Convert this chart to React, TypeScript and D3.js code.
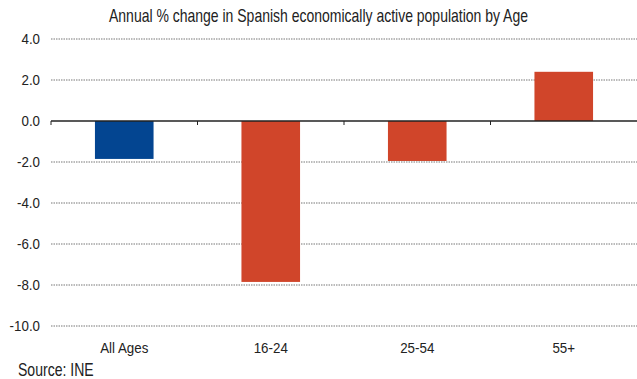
import React from "react";
import * as d3 from "d3";

const categories = ["All Ages", "16-24", "25-54", "55+"];
const values = [-1.85, -7.85, -1.95, 2.4];
const colors = ["#034591", "#d0452a", "#d0452a", "#d0452a"];
const yTicks = [4, 2, 0, -2, -4, -6, -8, -10];
const title = "Annual % change in Spanish economically active population by Age";
const source = "Source: INE";

const W = 637, H = 379;
const left = 51, right = 637, top = 39, bottom = 326;
const FONT = "'Liberation Sans', Arial, sans-serif";

function NText({ x, y, sx, anchor, size, children }: any) {
  return (
    <text transform={`translate(${x},${y}) scale(${sx},1)`} textAnchor={anchor} fontSize={size} fill="#222">
      {children}
    </text>
  );
}

export default function App() {
  const x = d3.scaleBand().domain(categories).range([left, right]).paddingInner(0.6).paddingOuter(0.3);
  const xb = d3.scaleBand().domain(categories).range([left, right]);
  const y = d3.scaleLinear().domain([-10, 4]).range([bottom, top]);
  return (
    <svg width={W} height={H} style={{ position: "absolute", left: 0, top: 0, background: "#fff" }} fontFamily={FONT}>
      <NText x={318.5} y={22} sx={0.8} anchor="middle" size={17.5}>{title}</NText>
      {yTicks.filter(t => t !== 0).map(t => (
        <line key={t} x1={left} x2={right} y1={y(t)} y2={y(t)} stroke="#777" strokeWidth={1} strokeDasharray="1.5,1" />
      ))}
      {yTicks.map(t => (
        <NText key={"l" + t} x={40} y={y(t) + 5} sx={0.92} anchor="end" size={14.5}>{t.toFixed(1)}</NText>
      ))}
      {categories.map((c, i) => (
        <rect key={c} x={x(c)} width={x.bandwidth()} y={y(Math.max(0, values[i]))} height={Math.abs(y(values[i]) - y(0))} fill={colors[i]} />
      ))}
      <line x1={left} x2={right} y1={y(0)} y2={y(0)} stroke="#222" strokeWidth={1.3} />
      {categories.map(c => (
        <line key={"t" + c} x1={xb(c)} x2={xb(c)} y1={y(0)} y2={y(0) + 4} stroke="#222" strokeWidth={1} />
      ))}
      {categories.map(c => (
        <NText key={"c" + c} x={x(c)! + x.bandwidth() / 2} y={353} sx={0.92} anchor="middle" size={14.5}>{c}</NText>
      ))}
      <NText x={18} y={375.5} sx={0.78} anchor="start" size={18}>{source}</NText>
    </svg>
  );
}
